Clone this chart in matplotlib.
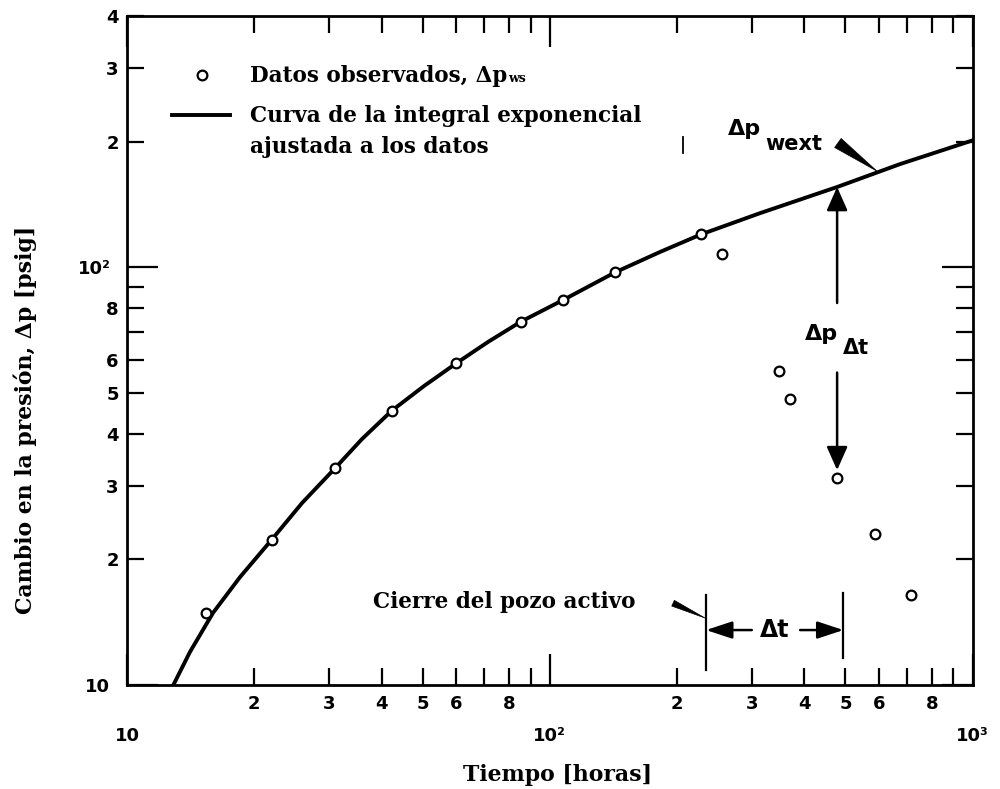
import matplotlib
matplotlib.use("Agg")
import matplotlib.pyplot as plt
from matplotlib.ticker import FixedLocator, FixedFormatter
from matplotlib.patches import FancyArrowPatch

# Observed pressure change during the test (hours, psig)
t_obs = [15.4, 22.0, 31.0, 42.3, 60.0, 85.3, 107.6, 142.6, 227.9, 255.0,
         349.0, 370.0, 477.0, 588.0, 714.0]
dp_obs = [14.9, 22.3, 33.0, 45.4, 58.9, 74.1, 83.6, 97.3, 120.0, 107.5,
          56.5, 48.3, 31.3, 23.0, 16.4]

# Exponential-integral curve fitted to the drawdown data
t_fit = [12.87, 14.09, 15.97, 18.51, 22.0, 25.94, 31.0, 35.96, 42.3, 50.4,
         60.0, 71.4, 85.3, 107.6, 142.6, 182.2, 227.9, 314.2, 477.9, 673.4, 1000.0]
dp_fit = [10.0, 12.0, 14.88, 18.14, 22.3, 27.28, 33.0, 38.83, 45.4, 52.0,
          58.9, 66.3, 74.1, 83.6, 97.3, 108.9, 120.0, 134.9, 155.8, 176.8, 201.5]

# Axis ticks and their labels
x_major = [10, 100, 1000]
x_major_labels = ["10", "10\u00b2", "10\u00b3"]
x_minor = [20, 30, 40, 50, 60, 70, 80, 90, 200, 300, 400, 500, 600, 700, 800, 900]
x_minor_labels = ["2", "3", "4", "5", "6", "", "8", "", "2", "3", "4", "5", "6", "", "8", ""]
y_major = [10, 100]
y_major_labels = ["10", "10\u00b2"]
y_minor = [20, 30, 40, 50, 60, 70, 80, 90, 200, 300, 400]
y_minor_labels = ["2", "3", "4", "5", "6", "", "8", "", "2", "3", "4"]

# Annotation anchors
t_shutin = 234.1      # shut-in of the active well
t_dt_end = 494.6      # end of the Delta t interval
t_dp = 477.9          # time where Delta p is read
dp_curve_at_t = 155.8
dp_obs_at_t = 32.7

SERIF = ["DejaVu Serif"]
SANS = ["DejaVu Sans"]
plt.rcParams["font.family"] = SANS
plt.rcParams["font.weight"] = "bold"
FS = 15.5

fig = plt.figure(figsize=(10, 7.89), dpi=100)
ax = fig.add_axes([0.127, 0.1318, 0.8457, 0.8479])
ax.set_xscale("log")
ax.set_yscale("log")
ax.set_xlim(10, 1000)
ax.set_ylim(10, 400)

ax.plot(t_fit, dp_fit, color="black", lw=2.8, zorder=2)
ax.plot(t_obs, dp_obs, ls="none", marker="o", ms=7, mfc="white",
        mec="black", mew=1.6, zorder=3)

# ticks
ax.xaxis.set_major_locator(FixedLocator(x_major))
ax.xaxis.set_major_formatter(FixedFormatter(x_major_labels))
ax.xaxis.set_minor_locator(FixedLocator(x_minor))
ax.xaxis.set_minor_formatter(FixedFormatter(x_minor_labels))
ax.yaxis.set_major_locator(FixedLocator(y_major))
ax.yaxis.set_major_formatter(FixedFormatter(y_major_labels))
ax.yaxis.set_minor_locator(FixedLocator(y_minor))
ax.yaxis.set_minor_formatter(FixedFormatter(y_minor_labels))

ax.tick_params(which="both", direction="in", top=True, right=True,
               labeltop=False, labelright=False, color="black", width=1.6,
               labelsize=13)
ax.tick_params(axis="x", which="major", length=22, pad=30)
ax.tick_params(axis="x", which="minor", length=12, pad=7)
ax.tick_params(axis="y", which="major", length=22, pad=12)
ax.tick_params(axis="y", which="minor", length=12, pad=6)
for s in ax.spines.values():
    s.set_linewidth(2.0)

# legend drawn by hand
ax.plot([0.0883], [0.9118], transform=ax.transAxes, ls="none", marker="o",
        ms=7, mfc="white", mec="black", mew=1.6)
ax.plot([0.0529, 0.1218], [0.852, 0.852], transform=ax.transAxes,
        color="black", lw=2.8)
t1 = ax.text(0.1454, 0.9013, "Datos observados, \u0394p", transform=ax.transAxes,
             family=SERIF, fontsize=FS, weight="bold", va="baseline")
ax.annotate("ws", xy=(1, 0), xycoords=t1, xytext=(1, 1.5),
            textcoords="offset points", family=SERIF, fontsize=9,
            weight="bold", va="bottom")
ax.text(0.1454, 0.8416, "Curva de la integral exponencial", transform=ax.transAxes,
        family=SERIF, fontsize=FS, weight="bold", va="baseline")
ax.text(0.1454, 0.7952, "ajustada a los datos", transform=ax.transAxes,
        family=SERIF, fontsize=FS, weight="bold", va="baseline")

# Delta p_wext label with wedge pointer
ax.text(263.9, 207.6, "\u0394p", fontsize=16, va="baseline")
ax.text(322.8, 191.0, "wext", fontsize=15, va="baseline")
ax.add_patch(FancyArrowPatch(posA=(480, 198.6), posB=(594, 170),
                             arrowstyle="wedge,tail_width=0.8,shrink_factor=0.5",
                             mutation_scale=10, fc="black", ec="black", lw=0.5,
                             shrinkA=0, shrinkB=0, zorder=4))
ax.plot([206.5, 206.5], [205.3, 187.9], color="black", lw=1.3)

# Delta p_Delta t arrows
arrow_v = dict(arrowstyle="-|>,head_length=0.9,head_width=0.4", color="black",
               lw=1.8, shrinkA=0, shrinkB=0, mutation_scale=16)
ax.annotate("", xy=(t_dp, dp_curve_at_t), xytext=(t_dp, 82.2), arrowprops=arrow_v)
ax.annotate("", xy=(t_dp, dp_obs_at_t), xytext=(t_dp, 56.0), arrowprops=arrow_v)
ax.text(401.4, 67.0, "\u0394p", fontsize=16, va="baseline")
ax.text(493.8, 62.0, "\u0394t", fontsize=15, va="baseline")

# Delta t interval
ax.plot([t_shutin, t_shutin], [10.86, 16.4], color="black", lw=1.6)
ax.plot([t_dt_end, t_dt_end], [11.6, 16.6], color="black", lw=1.6)
arrow_h = dict(arrowstyle="-|>,head_length=1.0,head_width=0.33", color="black",
               lw=1.8, shrinkA=0, shrinkB=0, mutation_scale=16)
ax.annotate("", xy=(t_shutin, 13.54), xytext=(300.3, 13.54), arrowprops=arrow_h)
ax.annotate("", xy=(t_dt_end, 13.54), xytext=(390.7, 13.54), arrowprops=arrow_h)
ax.text(341, 13.54, "\u0394t", fontsize=17, ha="center", va="center")

# shut-in label and pointer
ax.text(38.2, 15.29, "Cierre del pozo activo", family=SERIF, fontsize=FS,
        weight="bold", va="baseline")
ax.add_patch(FancyArrowPatch(posA=(195.6, 15.7), posB=(232.8, 14.47),
                             arrowstyle="wedge,tail_width=0.45,shrink_factor=0.5",
                             mutation_scale=10, fc="black", ec="black", lw=0.5,
                             shrinkA=0, shrinkB=0))

# axis titles
fig.text(0.558, 0.0177, "Tiempo [horas]", family=SERIF, fontsize=15.8,
         weight="bold", ha="center", va="center")
fig.text(0.025, 0.4677, "Cambio en la presi\u00f3n, \u0394p [psig]", family=SERIF,
         fontsize=15.8, weight="bold", ha="center", va="center", rotation=90)

fig.savefig("out.png", dpi=100)
